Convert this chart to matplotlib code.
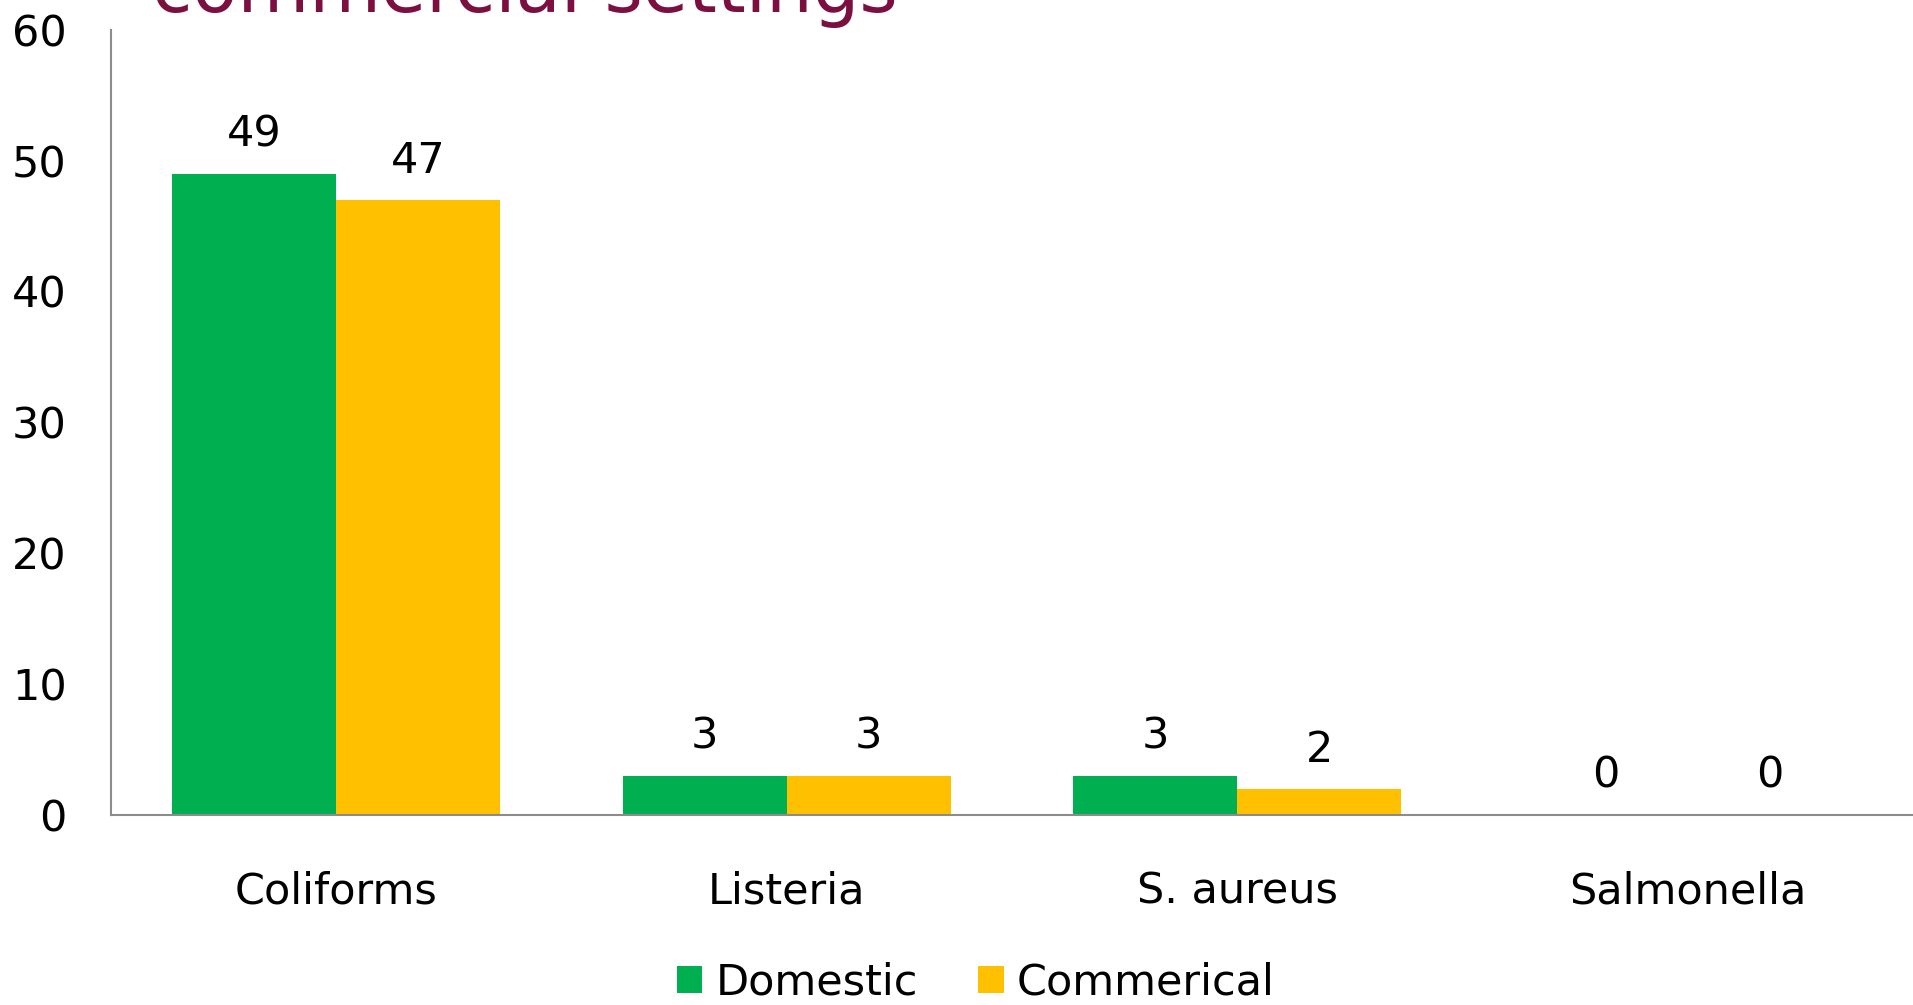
import matplotlib
matplotlib.use('Agg')
import matplotlib.pyplot as plt
import numpy as np

# data
categories = ['Coliforms', 'Listeria', 'S. aureus', 'Salmonella']
domestic = [49, 3, 3, 0]
commercial = [47, 3, 2, 0]
series_names = ['Domestic', 'Commerical']
yticks = [0, 10, 20, 30, 40, 50, 60]

GREEN = '#00B050'
YELLOW = '#FFC000'
SPINE = '#8C8C8C'

plt.rcParams['font.family'] = ['DejaVu Sans']

fig = plt.figure(figsize=(19.13, 10.05), dpi=100)
ax = fig.add_axes([0.058, 0.189, 0.942, 0.7815])

x = np.arange(len(categories))
w = 0.364
b1 = ax.bar(x - w / 2, domestic, w, color=GREEN, label=series_names[0])
b2 = ax.bar(x + w / 2, commercial, w, color=YELLOW, label=series_names[1])

# value labels above bars
for bars in (b1, b2):
    for rect in bars:
        h = rect.get_height()
        ax.annotate(str(int(h)), (rect.get_x() + rect.get_width() / 2, h),
                    xytext=(0, 13), textcoords='offset points',
                    ha='center', va='bottom', fontsize=31)

ax.set_xlim(-0.5, 3.5)
ax.set_ylim(0, 60)
ax.set_yticks(yticks)
ax.set_xticks(x)
ax.set_xticklabels(categories)
ax.tick_params(axis='both', length=0, labelsize=31)
ax.tick_params(axis='y', pad=32)
ax.tick_params(axis='x', pad=40)

for s in ['top', 'right']:
    ax.spines[s].set_visible(False)
for s in ['left', 'bottom']:
    ax.spines[s].set_color(SPINE)
    ax.spines[s].set_linewidth(1.5)

# title, mostly cut off by the top edge (as in the original slide)
fig.text(0.0795, 0.988, 'commercial settings', color='#7B1040',
         fontsize=53, ha='left', va='baseline')

fig.legend(handles=[b1, b2], labels=series_names, loc='center',
           bbox_to_anchor=(0.51, 0.022), ncol=2, frameon=False,
           fontsize=31, handlelength=0.6, handleheight=0.6,
           handletextpad=0.3, columnspacing=1.4)

fig.savefig('out.png', dpi=100)
